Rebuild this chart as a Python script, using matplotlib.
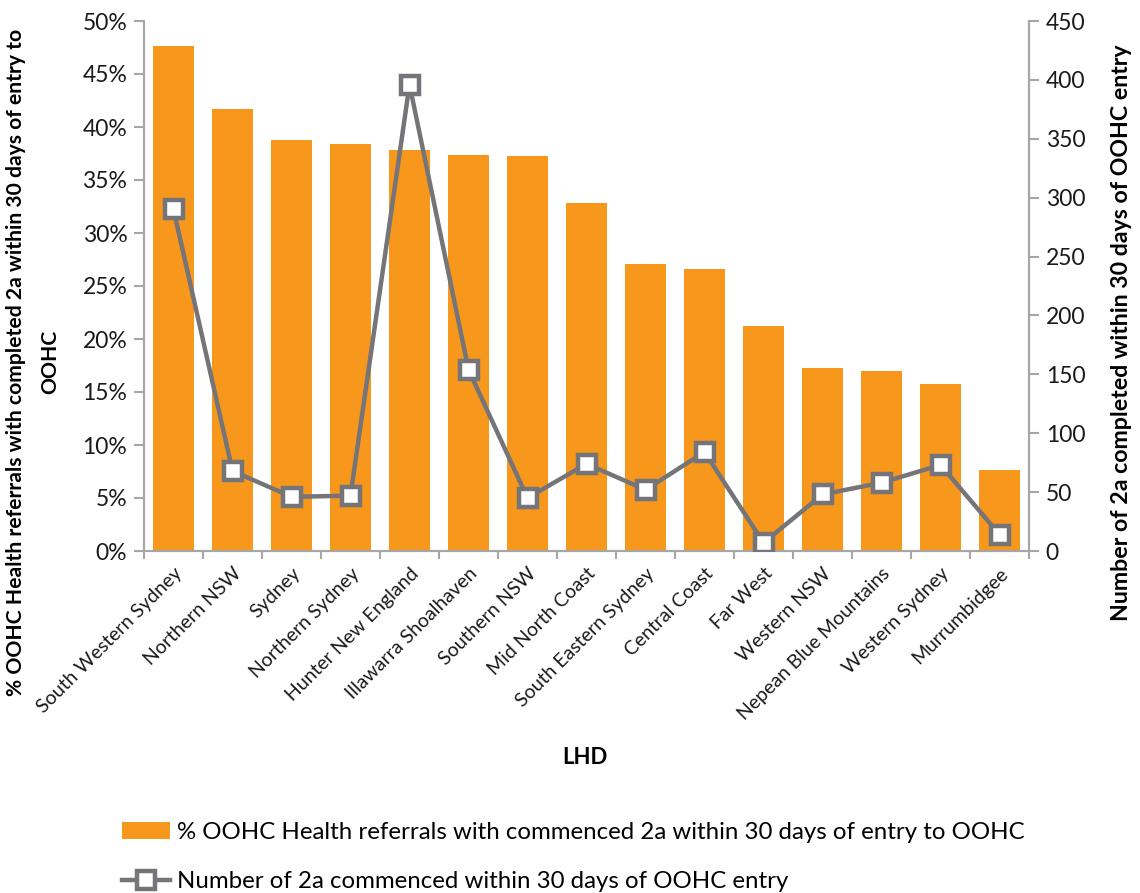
import matplotlib
matplotlib.use("Agg")
import matplotlib.pyplot as plt
import numpy as np
from matplotlib.ticker import FuncFormatter, MultipleLocator, FixedLocator

plt.rcParams['font.family'] = ['Lato', 'DejaVu Sans']

categories = ["South Western Sydney", "Northern NSW", "Sydney", "Northern Sydney",
              "Hunter New England", "Illawarra Shoalhaven", "Southern NSW",
              "Mid North Coast", "South Eastern Sydney", "Central Coast", "Far West",
              "Western NSW", "Nepean Blue Mountains", "Western Sydney", "Murrumbidgee"]
pct_commenced = [47.6, 41.7, 38.8, 38.4, 37.8, 37.4, 37.3, 32.8, 27.1, 26.65,
                 21.2, 17.3, 17.0, 15.8, 7.6]
num_commenced = [290, 68, 46, 47, 396, 154, 45, 74, 52, 84, 7, 48, 58, 73, 14]

bar_label = "% OOHC Health referrals with commenced 2a within 30 days of entry to OOHC"
line_label = "Number of 2a commenced within 30 days of OOHC entry"
left_ylabel = "% OOHC Health referrals with completed 2a within 30 days of entry to\nOOHC"
right_ylabel = "Number of 2a completed within 30 days of OOHC entry"
xlabel = "LHD"

orange = "#F7981D"
gray = "#757478"
spine_c = "#A6A6A6"

fig = plt.figure(figsize=(11.4, 8.93), dpi=100)
ax = fig.add_axes([144/1140, 1-551/893, (1029-144)/1140, (551-21)/893])
ax2 = ax.twinx()

x = np.arange(len(categories))
bars = ax.bar(x, pct_commenced, width=0.705, color=orange, label=bar_label, zorder=2)
line, = ax2.plot(x, num_commenced, color=gray, lw=3.2, marker='s', ms=13,
                 mfc='white', mec=gray, mew=3.2, label=line_label, zorder=3)

ax.set_xlim(-0.5, len(categories)-0.5)
ax.set_ylim(0, 50)
ax2.set_ylim(0, 450)
ax.yaxis.set_major_locator(MultipleLocator(5))
ax.yaxis.set_major_formatter(FuncFormatter(lambda v, p: f"{int(round(v))}%"))
ax2.yaxis.set_major_locator(MultipleLocator(50))

for a in (ax, ax2):
    for s in a.spines.values():
        s.set_color(spine_c)
        s.set_linewidth(1.5)
    a.spines['top'].set_visible(False)
ax.tick_params(axis='y', direction='out', length=7, width=1.5, color=spine_c,
               labelsize=16.5, labelcolor='#1a1a1a', pad=5)
ax2.tick_params(axis='y', direction='out', length=7, width=1.5, color=spine_c,
                labelsize=16.5, labelcolor='#1a1a1a', pad=5)

ax.set_xticks(x)
ax.set_xticklabels(categories, rotation=45, ha='right', va='top',
                   rotation_mode='anchor', fontsize=14, color='#1a1a1a')
ax.tick_params(axis='x', which='major', length=0, pad=10)
ax.xaxis.set_minor_locator(FixedLocator(np.arange(-0.5, len(categories), 1.0)))
ax.tick_params(axis='x', which='minor', length=6, width=1.5, color=spine_c, direction='out')

fig.text(0.029, 1-362/893, left_ylabel, rotation=90, ha='center', va='center',
         multialignment='center', fontsize=15.2, fontweight='bold', linespacing=1.9)
fig.text(1122/1140, 1-333/893, right_ylabel, rotation=90, ha='center', va='center',
         fontsize=16.7, fontweight='bold')
fig.text(585/1140, 1-757/893, xlabel, ha='center', va='center', fontsize=16, fontweight='bold')

fig.legend([bars, line], [bar_label, line_label], loc='upper left',
           bbox_to_anchor=(112/1140, 1-812/893), frameon=False, fontsize=17.3,
           handlelength=2.0, handletextpad=0.3, labelspacing=1.2, borderaxespad=0)

fig.savefig("out.png", dpi=100)
